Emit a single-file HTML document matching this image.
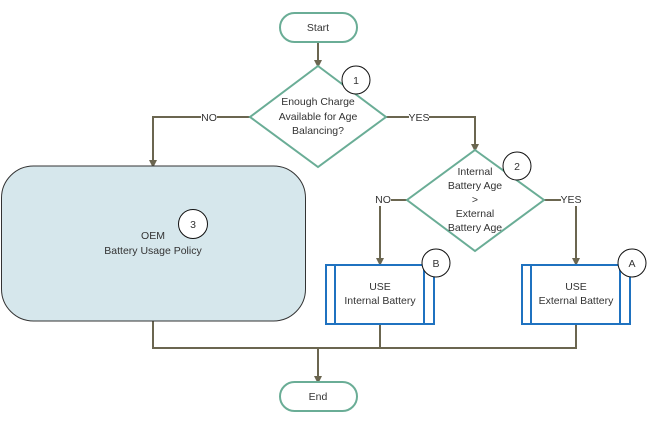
<!DOCTYPE html>
<html><head><meta charset="utf-8"><style>
html,body{margin:0;padding:0;background:#fff;}
svg{display:block;font-family:"Liberation Sans",sans-serif;}
text{font-size:10.5px;fill:#333;text-anchor:middle;}
</style></head><body>
<svg width="650" height="428" viewBox="0 0 650 428">
<defs><marker id="ar" markerWidth="8" markerHeight="8" refX="4" refY="4" orient="auto" markerUnits="userSpaceOnUse">
<path d="M0,0 L8,4 L0,8 z" fill="#6b6650"/></marker></defs>
<g stroke="#6b6650" stroke-width="2" fill="none">
<line x1="318" y1="42" x2="318" y2="64" marker-end="url(#ar)"/>
<polyline points="386,117 475,117 475,148" marker-end="url(#ar)"/>
<polyline points="250,117 153,117 153,164" marker-end="url(#ar)"/>
<polyline points="407,200 380,200 380,262" marker-end="url(#ar)"/>
<polyline points="544,200 576,200 576,262" marker-end="url(#ar)"/>
<polyline points="153,321 153,348 576,348 576,324"/>
<line x1="380" y1="324" x2="380" y2="348"/>
<line x1="318" y1="348" x2="318" y2="380" marker-end="url(#ar)"/>
</g>
<rect x="201" y="111" width="16" height="12" fill="#fff"/><text x="209" y="121">NO</text>
<rect x="409" y="111" width="20" height="12" fill="#fff"/><text x="419" y="121">YES</text>
<rect x="375" y="194" width="16" height="12" fill="#fff"/><text x="383" y="203">NO</text>
<rect x="561" y="194" width="20" height="12" fill="#fff"/><text x="571" y="203">YES</text>
<rect x="280" y="13" width="77" height="29" rx="14.5" fill="#fff" stroke="#6aad96" stroke-width="2"/>
<text x="318" y="31">Start</text>
<rect x="280" y="382" width="77" height="29" rx="14.5" fill="#fff" stroke="#6aad96" stroke-width="2"/>
<text x="318" y="400">End</text>
<polygon points="318,66 386,117 318,167 250,117" fill="#fff" stroke="#6aad96" stroke-width="2"/>
<text x="318" y="105">Enough Charge</text><text x="318" y="120">Available for Age</text><text x="318" y="134">Balancing?</text>
<polygon points="475,150 544,200 475,251 407,200" fill="#fff" stroke="#6aad96" stroke-width="2"/>
<text x="475" y="175">Internal</text><text x="475" y="189">Battery Age</text><text x="475" y="203">&gt;</text><text x="475" y="217">External</text><text x="475" y="231">Battery Age</text>
<rect x="1.5" y="166" width="304" height="155" rx="32" fill="#d6e7ec" stroke="#333" stroke-width="1"/>
<text x="153" y="239">OEM</text><text x="153" y="254">Battery Usage Policy</text>
<g fill="#fff" stroke="#1f72c0" stroke-width="2">
<rect x="326" y="265" width="108" height="59"/><line x1="335" y1="265" x2="335" y2="324"/><line x1="424" y1="265" x2="424" y2="324"/>
<rect x="522" y="265" width="108" height="59"/><line x1="531" y1="265" x2="531" y2="324"/><line x1="620" y1="265" x2="620" y2="324"/>
</g>
<text x="380" y="290">USE</text><text x="380" y="304">Internal Battery</text>
<text x="576" y="290">USE</text><text x="576" y="304">External Battery</text>
<g fill="#fff" stroke="#111" stroke-width="1">
<circle cx="356" cy="80" r="14"/><circle cx="517" cy="166" r="14"/><circle cx="193" cy="224" r="14.5"/>
<circle cx="436" cy="263" r="14"/><circle cx="632" cy="263" r="14"/>
</g>
<text x="356" y="84">1</text><text x="517" y="170">2</text><text x="193" y="228">3</text>
<text x="436" y="267">B</text><text x="632" y="267">A</text>
</svg>
</body></html>
